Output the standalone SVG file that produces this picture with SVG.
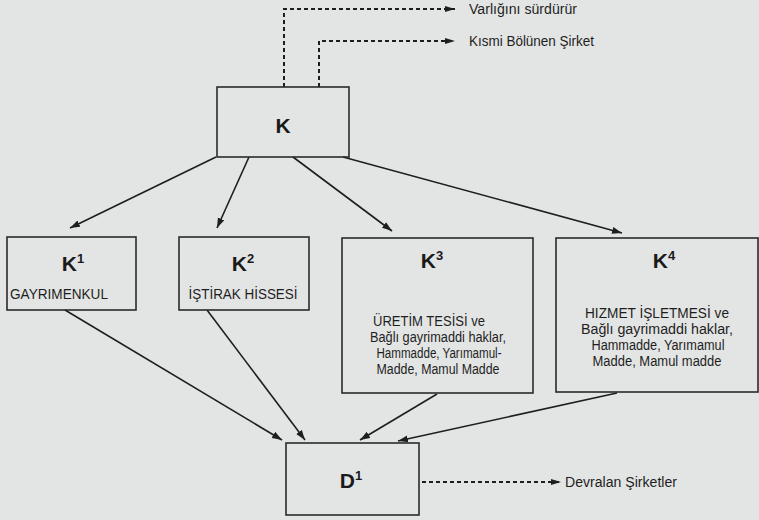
<svg xmlns="http://www.w3.org/2000/svg" width="759" height="520" viewBox="0 0 759 520">
<defs>
<style>
.box{fill:none;stroke:#2a2a2a;stroke-width:1.6}
.ln{fill:none;stroke:#1e1e1e;stroke-width:1.6;marker-end:url(#ah)}
.dl{fill:none;stroke:#1e1e1e;stroke-width:2;stroke-dasharray:4 3;marker-end:url(#ah2)}
.big{font-family:"Liberation Sans",Arial,sans-serif;font-size:21px;font-weight:bold;fill:#1a1a1a;text-anchor:middle}
.sup{font-size:13px}
.t{font-family:"Liberation Sans",Arial,sans-serif;font-size:14px;fill:#1e1e1e;text-anchor:middle}
.lbl{font-family:"Liberation Sans",Arial,sans-serif;font-size:14px;fill:#1e1e1e}
</style>
<marker id="ah" markerUnits="userSpaceOnUse" markerWidth="11" markerHeight="8" refX="10" refY="4" orient="auto">
<path d="M0,0.5 L10,4 L0,7.5 z" fill="#1e1e1e"/>
</marker>
<marker id="ah2" markerUnits="userSpaceOnUse" markerWidth="11" markerHeight="8" refX="10" refY="4" orient="auto">
<path d="M0,1 L10,4 L0,7 z" fill="#1e1e1e"/>
</marker>
</defs>
<rect x="0" y="0" width="759" height="520" fill="#e3e5e4"/>

<g id="connectors">
<path class="dl" d="M284,87 V9 H455"/>
<path class="dl" d="M319,87 V41 H455"/>
<path class="dl" d="M422,482 H561"/>
<line class="ln" x1="216" y1="157" x2="70" y2="228"/>
<line class="ln" x1="249" y1="157" x2="217" y2="228"/>
<line class="ln" x1="293" y1="157" x2="392" y2="231"/>
<line class="ln" x1="343" y1="157" x2="622" y2="233"/>
<line class="ln" x1="65" y1="310" x2="282" y2="440"/>
<line class="ln" x1="207" y1="310" x2="305" y2="440"/>
<line class="ln" x1="437" y1="394" x2="360" y2="440"/>
<line class="ln" x1="617" y1="393" x2="398" y2="441"/>
</g>

<g id="K">
<rect class="box" x="217" y="87" width="132" height="70"/>
<text class="big" x="283" y="133">K</text>
</g>

<g id="K1">
<rect class="box" x="7" y="237" width="129" height="73"/>
<text class="big" x="73" y="271">K<tspan class="sup" dy="-8">1</tspan></text>
<text class="t" x="59" y="299" textLength="98" lengthAdjust="spacingAndGlyphs">GAYRIMENKUL</text>
</g>

<g id="K2">
<rect class="box" x="179" y="237" width="130" height="73"/>
<text class="big" x="243" y="271">K<tspan class="sup" dy="-8">2</tspan></text>
<text class="t" x="243" y="299" textLength="109" lengthAdjust="spacingAndGlyphs">İŞTİRAK HİSSESİ</text>
</g>

<g id="K3">
<rect class="box" x="342" y="238" width="191" height="155"/>
<text class="big" x="432" y="268">K<tspan class="sup" dy="-8">3</tspan></text>
<text class="t" x="429" y="326" textLength="112" lengthAdjust="spacingAndGlyphs">ÜRETİM TESİSİ ve</text>
<text class="t" x="438" y="342" textLength="136" lengthAdjust="spacingAndGlyphs">Bağlı gayrimaddi haklar,</text>
<text class="t" x="439" y="358" textLength="125" lengthAdjust="spacingAndGlyphs">Hammadde, Yarımamul-</text>
<text class="t" x="438" y="374" textLength="123" lengthAdjust="spacingAndGlyphs">Madde, Mamul Madde</text>
</g>

<g id="K4">
<rect class="box" x="556" y="238" width="202" height="154"/>
<text class="big" x="664" y="268">K<tspan class="sup" dy="-8">4</tspan></text>
<text class="t" x="657" y="318" textLength="144" lengthAdjust="spacingAndGlyphs">HIZMET İŞLETMESİ ve</text>
<text class="t" x="657" y="334" textLength="152" lengthAdjust="spacingAndGlyphs">Bağlı gayrimaddi haklar,</text>
<text class="t" x="658" y="350" textLength="133" lengthAdjust="spacingAndGlyphs">Hammadde, Yarımamul</text>
<text class="t" x="657" y="366" textLength="129" lengthAdjust="spacingAndGlyphs">Madde, Mamul madde</text>
</g>

<g id="D1">
<rect class="box" x="286" y="443" width="133" height="72"/>
<text class="big" x="351" y="488">D<tspan class="sup" dy="-8">1</tspan></text>
</g>

<g id="labels">
<text class="lbl" x="469" y="14" textLength="108" lengthAdjust="spacingAndGlyphs">Varlığını sürdürür</text>
<text class="lbl" x="469" y="46" textLength="125" lengthAdjust="spacingAndGlyphs">Kısmi Bölünen Şirket</text>
<text class="lbl" x="565" y="487" textLength="112" lengthAdjust="spacingAndGlyphs">Devralan Şirketler</text>
</g>
</svg>
